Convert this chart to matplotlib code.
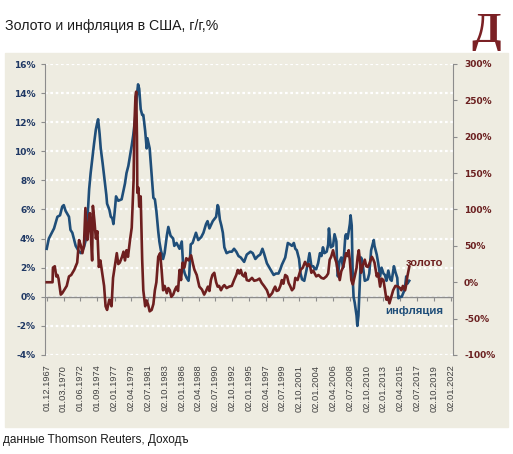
import numpy as np
import matplotlib.pyplot as plt
from matplotlib.patches import Rectangle

# инфляция в США, г/г, % (левая ось)
infl_t = [1967.92, 1968.2, 1968.5, 1968.9, 1969.35, 1969.7, 1970.0, 1970.2, 1970.45, 1970.9,
          1971.1, 1971.35, 1971.8, 1972.25, 1972.5, 1972.9, 1973.1, 1973.35, 1973.6, 1973.8,
          1974.0, 1974.25, 1974.5, 1974.7, 1974.8, 1975.0, 1975.15, 1975.4, 1975.6, 1975.9,
          1976.0, 1976.3, 1976.5, 1976.7, 1976.85, 1977.05, 1977.2, 1977.5, 1977.95, 1978.4,
          1978.6, 1978.85, 1979.3, 1979.5, 1979.75, 1980.0, 1980.15, 1980.3, 1980.5, 1980.7,
          1980.85, 1981.1, 1981.3, 1981.4, 1981.7, 1982.0, 1982.2, 1982.4, 1982.6, 1982.85,
          1983.0, 1983.2, 1983.5, 1983.7, 1984.0, 1984.2, 1984.5, 1984.85, 1985.0, 1985.3,
          1985.7, 1986.0, 1986.2, 1986.4, 1986.65, 1986.9, 1987.0, 1987.2, 1987.45, 1987.9,
          1988.2, 1988.6, 1988.9, 1989.25, 1989.45, 1989.7, 1990.15, 1990.6, 1990.8, 1990.9,
          1991.1, 1991.3, 1991.5, 1991.7, 1992.0, 1992.4, 1992.7, 1993.0, 1993.3, 1993.6,
          1993.9, 1994.35, 1994.7, 1995.2, 1995.5, 1995.85, 1996.2, 1996.5, 1996.8, 1997.0,
          1997.4, 1997.85, 1998.3, 1998.6, 1998.95, 1999.2, 1999.4, 1999.85, 2000.2, 2000.5,
          2000.75, 2001.0, 2001.2, 2001.4, 2001.7, 2001.9, 2002.1, 2002.4, 2002.6, 2002.8,
          2003.1, 2003.35, 2003.6, 2003.8, 2004.0, 2004.25, 2004.5, 2004.7, 2004.9, 2005.1,
          2005.4, 2005.6, 2005.7, 2005.95, 2006.25, 2006.45, 2006.7, 2006.8, 2006.9, 2007.1,
          2007.35, 2007.6, 2007.8, 2007.9, 2008.0, 2008.2, 2008.5, 2008.6, 2008.75, 2008.9,
          2009.0, 2009.15, 2009.4, 2009.5, 2009.65, 2009.9, 2010.0, 2010.2, 2010.5, 2010.9,
          2011.1, 2011.35, 2011.7, 2011.8, 2012.1, 2012.3, 2012.55, 2012.75, 2013.0, 2013.2,
          2013.4, 2013.65, 2013.9, 2014.1, 2014.4, 2014.6, 2014.85, 2015.0, 2015.2, 2015.45,
          2015.6, 2015.85, 2016.05, 2016.2, 2016.45]
infl_v = [3.3, 4.0, 4.3, 4.7, 5.5, 5.6, 6.2, 6.3, 5.9, 5.5,
          4.6, 4.4, 3.5, 3.1, 3.0, 3.4, 3.8, 5.1, 7.4, 8.5,
          9.4, 10.5, 11.5, 12.0, 12.2, 11.2, 10.2, 9.2, 8.3, 7.0,
          6.4, 6.0, 5.5, 5.4, 5.0, 6.0, 6.9, 6.6, 6.7, 7.8,
          8.5, 9.0, 10.4, 11.1, 12.2, 13.9, 14.6, 14.3, 12.9, 12.5,
          12.5, 11.4, 10.2, 10.9, 10.2, 8.2, 6.8, 6.7, 5.9, 4.5,
          3.8, 3.2, 2.6, 3.0, 4.2, 4.8, 4.2, 4.0, 3.5, 3.7,
          3.3, 3.8, 2.0, 1.6, 1.3, 1.1, 1.5, 3.6, 3.7, 4.4,
          3.9, 4.1, 4.4, 5.0, 5.2, 4.7, 5.2, 5.5, 6.3, 6.2,
          5.3, 4.9, 4.4, 3.4, 3.0, 3.1, 3.1, 3.3, 3.1, 2.8,
          2.7, 2.4, 2.9, 3.1, 3.0, 2.6, 2.8, 2.9, 3.3, 3.0,
          2.3, 1.9, 1.5, 1.6, 1.6, 1.9, 2.2, 2.7, 3.7, 3.6,
          3.5, 3.7, 3.3, 3.2, 2.6, 1.6, 1.2, 1.1, 1.6, 2.1,
          3.0, 2.1, 2.1, 1.9, 1.9, 2.3, 3.0, 2.8, 3.4, 3.0,
          3.1, 3.6, 4.7, 3.4, 3.5, 4.3, 3.8, 2.0, 1.4, 2.4,
          2.7, 2.0, 3.5, 4.2, 4.3, 4.0, 5.0, 5.6, 4.9, 1.1,
          0.0, -0.4, -1.3, -2.0, -1.3, 1.8, 2.7, 2.3, 1.1, 1.2,
          1.6, 3.2, 3.9, 3.5, 2.9, 2.3, 1.4, 2.0, 1.6, 1.5,
          1.1, 1.8, 1.2, 1.1, 2.1, 1.7, 1.3, -0.1, 0.0, 0.0,
          0.2, 0.5, 1.4, 0.9, 1.1]

# золото, г/г, % (правая ось)
gold_t = [1967.92, 1968.7, 1968.75, 1969.0, 1969.2, 1969.35, 1969.5, 1969.8, 1970.0, 1970.3,
          1970.6, 1970.9, 1971.2, 1971.6, 1972.0, 1972.25, 1972.5, 1972.7, 1972.9, 1973.1,
          1973.35, 1973.5, 1973.7, 1973.85, 1974.0, 1974.1, 1974.3, 1974.5, 1974.7, 1974.9,
          1975.1, 1975.35, 1975.6, 1975.8, 1976.0, 1976.3, 1976.6, 1976.8, 1977.0, 1977.3,
          1977.5, 1977.7, 1978.0, 1978.2, 1978.4, 1978.6, 1978.8, 1979.07, 1979.3, 1979.4,
          1979.55, 1979.65, 1979.8, 1979.9, 1980.0, 1980.05, 1980.2, 1980.3, 1980.5, 1980.7,
          1980.85, 1981.1, 1981.3, 1981.5, 1981.7, 1981.97, 1982.2, 1982.4, 1982.6, 1982.85,
          1983.1, 1983.3, 1983.5, 1983.7, 1984.0, 1984.2, 1984.4, 1984.6, 1984.85, 1985.1,
          1985.3, 1985.5, 1985.7, 1985.9, 1986.1, 1986.35, 1986.6, 1986.9, 1987.25, 1987.5,
          1987.7, 1988.0, 1988.35, 1988.7, 1989.0, 1989.25, 1989.5, 1989.7, 1989.9, 1990.1,
          1990.35, 1990.6, 1990.8, 1991.0, 1991.25, 1991.5, 1991.7, 1992.0, 1992.35, 1992.7,
          1993.0, 1993.3, 1993.5, 1993.7, 1993.9, 1994.1, 1994.35, 1994.5, 1994.7, 1995.0,
          1995.4, 1995.7, 1996.07, 1996.4, 1996.7, 1997.0, 1997.4, 1997.7, 1998.1, 1998.3,
          1998.5, 1998.7, 1998.95, 1999.2, 1999.4, 1999.6, 1999.85, 2000.1, 2000.3, 2000.5,
          2000.75, 2001.0, 2001.2, 2001.5, 2001.9, 2002.2, 2002.5, 2002.8, 2003.0, 2003.2,
          2003.35, 2003.6, 2003.8, 2004.0, 2004.3, 2004.7, 2005.0, 2005.35, 2005.6, 2005.8,
          2006.0, 2006.25, 2006.45, 2006.7, 2006.9, 2007.15, 2007.35, 2007.6, 2007.8, 2008.0,
          2008.2, 2008.35, 2008.5, 2008.7, 2008.9, 2009.15, 2009.4, 2009.55, 2009.7, 2009.85,
          2010.0, 2010.2, 2010.5, 2010.7, 2010.9, 2011.1, 2011.45, 2011.65, 2011.8, 2012.1,
          2012.3, 2012.55, 2012.75, 2013.0, 2013.2, 2013.4, 2013.6, 2013.8, 2014.0, 2014.3,
          2014.6, 2014.95, 2015.2, 2015.4, 2015.6, 2015.9, 2016.05, 2016.2, 2016.45]
gold_v = [0, 0, 20, 22, 8, 10, 5, -17, -15, -10,
          -5, 8, 10, 17, 27, 58, 50, 40, 50, 102,
          58, 75, 95, 60, 30, 105, 85, 60, 70, 21,
          30, 13, -5, -33, -38, -24, -33, 6, 20, 40,
          25, 27, 35, 42, 30, 44, 35, 58, 75, 100,
          140, 214, 255, 262, 200, 123, 130, 104, 118, 31,
          -11, -33, -25, -31, -40, -38, -30, -11, 0, 35,
          40, 17, -11, -5, -15, -8, -11, -20, -17, -10,
          -6, -12, 17, 3, 27, 20, 33, 30, 37, 25,
          17, 10, -6, -10, -17, -12, -6, -12, 3, 10,
          13, 0, -6, -5, -11, -6, -4, -8, -6, -5,
          3, 10, 17, 12, 17, 10, 8, 13, 3, 2,
          6, 2, 3, 5, -1, -5, -11, -20, -15, -10,
          -6, -12, -11, -5, 3, -2, 10, 8, -1, -5,
          -11, -8, 6, 3, 17, 20, 28, 22, 25, 21,
          13, 16, 12, 8, 10, 6, 5, 8, 12, 31,
          35, 44, 35, 27, 15, 3, 15, 21, 30, 40,
          36, 44, 30, 3, -3, 8, 20, 35, 44, 30,
          13, 22, 31, 22, 21, 25, 35, 31, 27, 8,
          12, -6, 5, 3, -10, -24, -20, -29, -22, -11,
          -5, -6, -8, -11, -5, -11, -3, 8, 21]

tick_labels = ['01.12.1967', '01.03.1970', '01.06.1972', '01.09.1974', '02.01.1977',
               '02.04.1979', '02.07.1981', '02.10.1983', '02.01.1986', '02.04.1988',
               '02.07.1990', '02.10.1992', '02.01.1995', '02.04.1997', '02.07.1999',
               '02.10.2001', '02.01.2004', '02.04.2006', '02.07.2008', '02.10.2010',
               '02.01.2013', '02.04.2015', '02.07.2017', '02.10.2019', '02.01.2022']
tick_pos = [int(s[6:]) + (int(s[3:5]) - 1) / 12 for s in tick_labels]

blue = '#1f4e79'
red = '#6e1f1f'
beige = '#eeece1'
gray = '#8c8c8c'

fig = plt.figure(figsize=(5.13, 4.54), dpi=100)
fig.patches.append(Rectangle((5 / 513, 1 - 427 / 454), 503 / 513, 374 / 454,
                             transform=fig.transFigure, color=beige, zorder=-5))

ax = fig.add_axes([45 / 513, 1 - 355 / 454, 408 / 513, 291 / 454])
ax.set_facecolor(beige)
ax.plot(infl_t, infl_v, color=blue, lw=1.9, zorder=3)
ax.set_xlim(1967.69, 2022.31)
ax.set_ylim(-4, 16)
ax.set_yticks(np.arange(-4, 17, 2))
ax.set_yticklabels([f'{v}%' for v in range(-4, 17, 2)], color='#1f3864',
                   fontweight='bold', fontsize=6.5)
ax.yaxis.grid(True, color='white', linestyle=(0, (1.2, 1.2)), linewidth=1.6)
ax.set_axisbelow(True)
ax.tick_params(axis='y', direction='out', length=3, color=gray, pad=4)
ax.set_xticks(tick_pos, tick_labels, rotation=90, fontsize=6.7,
              family='Liberation Sans', color='#404040')
ax.tick_params(axis='x', length=0, pad=7)
for s in ['top', 'right', 'bottom']:
    ax.spines[s].set_visible(False)
ax.spines['left'].set_color(gray)
ax.axhline(0, color=gray, lw=1, zorder=2)

secax = ax.secondary_xaxis(0.2)
secax.set_xticks(tick_pos, labels=[])
secax.tick_params(axis='x', direction='out', length=3, color=gray)
secax.spines['bottom'].set_visible(False)
secax.spines['top'].set_visible(False)

ax2 = ax.twinx()
ax2.plot(gold_t, gold_v, color=red, lw=1.9, zorder=4)
ax2.set_ylim(-100, 300)
ax2.set_yticks(np.arange(-100, 301, 50))
ax2.set_yticklabels([f'{v}%' for v in range(-100, 301, 50)], color='#6b2020',
                    fontweight='bold', fontsize=6.5)
ax2.tick_params(axis='y', direction='out', length=3, color=gray, pad=5)
for s in ['top', 'left', 'bottom']:
    ax2.spines[s].set_visible(False)
ax2.spines['right'].set_color(gray)

ax.text(2016.0, 2.3, 'золото', color=red, fontsize=8, fontweight='bold',
        family='Liberation Sans', va='center')
ax.text(2013.2, -0.95, 'инфляция', color=blue, fontsize=8.2, fontweight='bold',
        family='Liberation Sans', va='center')

fig.text(5 / 513, 1 - 26 / 454, 'Золото и инфляция в США, г/г,%', fontsize=10.2,
         family='Liberation Sans', color='#1a1a1a', va='center')
fig.text(486 / 513, 1 - 32 / 454, 'Д', fontsize=31, family='Liberation Serif',
         fontweight='bold', color='#7b2125', ha='center', va='center')
fig.text(3 / 513, 1 - 440 / 454, 'данные Thomson Reuters, Доходъ', fontsize=8.5,
         family='Liberation Sans', color='#1a1a1a', va='center')

fig.savefig('out.png', dpi=100)
